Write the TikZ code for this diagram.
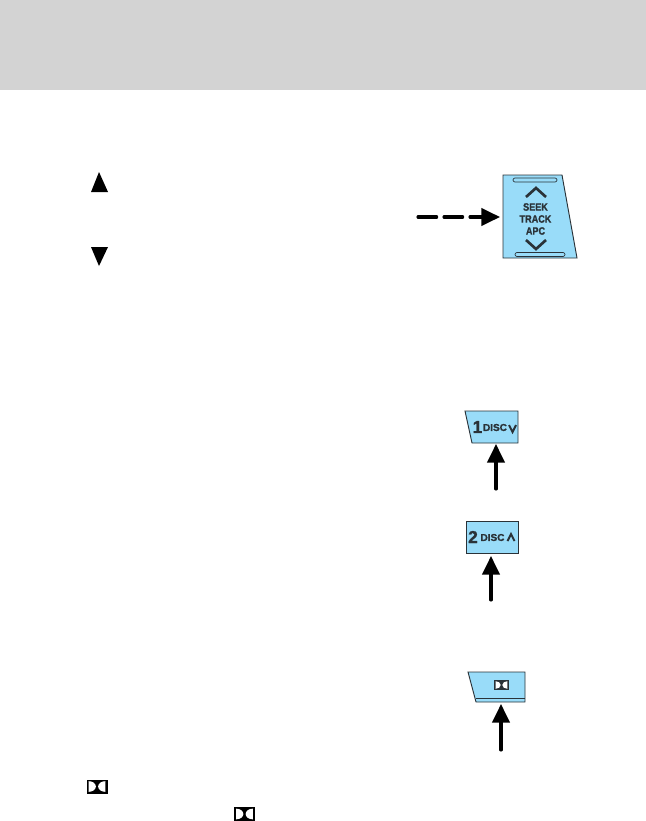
\documentclass[tikz,border=0pt]{standalone}
\usepackage{fontspec}
\setmainfont{Liberation Sans}
\usetikzlibrary{arrows.meta}
\definecolor{panelblue}{HTML}{99DCF9}
\definecolor{headgray}{HTML}{D3D3D3}
\definecolor{paneledge}{HTML}{2A3238}
\newfontfamily\heavyfont[BoldFont=*,FakeBold=1.2]{Liberation Sans Bold}
\newcommand{\narrowtext}[1]{\scalebox{.85}[1]{#1}}
\tikzset{
	panel/.style={draw=paneledge, fill=panelblue, line width=.7pt},
	lbl/.style={inner sep=0pt, font=\heavyfont\fontsize{8}{9}\selectfont, text=paneledge},
	chev/.style={draw=paneledge, line width=2pt},
	slot/.style={draw=paneledge, line width=.5pt, rounded corners=1.5pt},
	pointer/.style={-{Triangle[length=14pt,width=13pt]}, line width=2.3pt, line cap=round, black},
	dolby/.pic={
		\fill[pic actions] (-7.5,-5) rectangle (7.5,5);
		\fill[white] (-5.9,-3.8) arc[start angle=-90,end angle=90,x radius=5.1,y radius=3.8] -- cycle;
		\fill[white] (5.9,-3.8) arc[start angle=270,end angle=90,x radius=5.1,y radius=3.8] -- cycle;
	}
}
\begin{document}
\begin{tikzpicture}[x=.75pt,y=-.75pt]
	\useasboundingbox (0,0) rectangle (646,821);
	\fill[headgray] (0,0) rectangle (646,90);

	% triangles at the left
	\fill[black] (99,172) -- (108,192) -- (91,192) -- cycle;
	\fill[black] (99,266) -- (108,247) -- (91,247) -- cycle;

	% seek panel
	\draw[panel] (503,175) -- (562,175) -- (577,258) -- (503,258) -- cycle;
	\draw[slot] (513,178) rectangle (557,182);
	\draw[slot] (515,252.5) rectangle (565,256.5);
	\draw[chev] (526,197) -- (536,188) -- (546,197);
	\draw[chev] (526,240) -- (536,249) -- (546,240);
	\node[lbl] (seek) at (535.5,207) {\narrowtext{SEEK}};
	\node[lbl] (track) at (535.5,219) {\narrowtext{TRACK}};
	\node[lbl] (apc) at (535.5,231) {\narrowtext{APC}};
	\coordinate (seektail) at (418,217);
	\coordinate (seekedge) at (500,217);
	\draw[pointer, dash pattern=on 14pt off 5.5pt] (seektail) -- (seekedge);

	% disc down
	\draw[panel] (465,411) -- (518,411) -- (518,443) -- (472,443) -- cycle;
	\node[lbl, font=\heavyfont\fontsize{13}{14}\selectfont] (one) at (477.5,427) {1};
	\node[lbl, font=\heavyfont\fontsize{7.5}{9}\selectfont] (discdown) at (495,427.5) {DISC};
	\draw[chev, line width=1.5pt] (509,425) -- (512.5,432) -- (516,425);
	\coordinate (disconetail) at (496,489);
	\coordinate (disconeedge) at (496,444);
	\draw[pointer] (disconetail) -- (disconeedge);

	% disc up
	\draw[panel] (466,521) rectangle (518,553);
	\node[lbl, font=\heavyfont\fontsize{13}{14}\selectfont] (two) at (473,537) {2};
	\node[lbl, font=\heavyfont\fontsize{7.5}{9}\selectfont] (discup) at (492.5,537.5) {DISC};
	\draw[chev, line width=1.5pt] (507.5,541) -- (511,534) -- (514.5,541);
	\coordinate (disctwotail) at (491,600);
	\coordinate (disctwoedge) at (491,556);
	\draw[pointer] (disctwotail) -- (disctwoedge);

	% dolby panel
	\draw[panel] (468,672) -- (525,672) -- (525,702) -- (476,702) -- cycle;
	\draw[paneledge, line width=.6pt] (475.5,698) -- (525,698);
	\path (501.5,685) pic[paneledge] {dolby};
	\coordinate (dolbytail) at (501,750);
	\coordinate (dolbyedge) at (501,704);
	\draw[pointer] (dolbytail) -- (dolbyedge);

	% logos in the text
	\path (97,786.5) pic[black, x=1.05pt, y=-1.05pt] {dolby};
	\path (244.5,814) pic[black, x=1.05pt, y=-1.05pt] {dolby};
\end{tikzpicture}
\end{document}
